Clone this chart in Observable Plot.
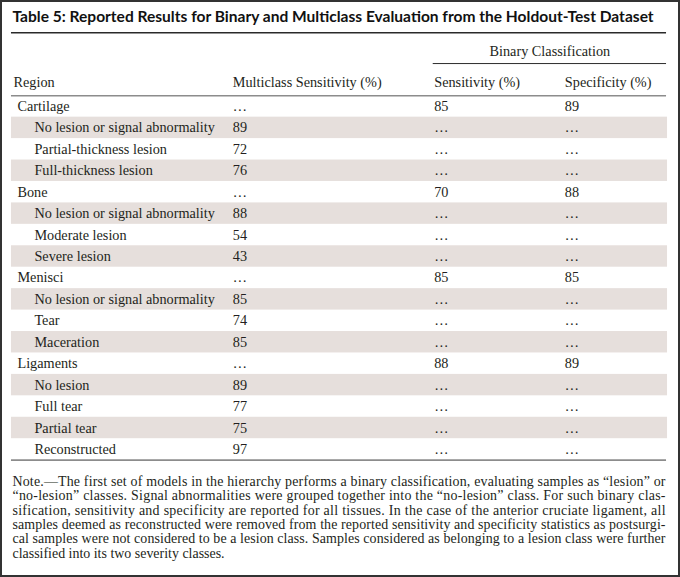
<!DOCTYPE html>
<html>
<head>
<meta charset="utf-8">
<script src="https://cdn.jsdelivr.net/npm/d3@7"></script>
<script src="https://cdn.jsdelivr.net/npm/@observablehq/plot@0.6"></script>
<style>
  html, body { margin: 0; padding: 0; background: #fff; }
  #wrap { position: relative; width: 680px; height: 577px; box-sizing: border-box; border: 2px solid #333; overflow: hidden; background: #fff; }
  #chart { position: absolute; left: -2px; top: -2px; }
</style>
</head>
<body>
<div id="wrap"><div id="chart"></div></div>
<script>
// ---------- data ----------
const title = "Table 5: Reported Results for Binary and Multiclass Evaluation from the Holdout-Test Dataset";
const groupHeader = "Binary Classification";
const columnHeaders = ["Region", "Multiclass Sensitivity (%)", "Sensitivity (%)", "Specificity (%)"];
const rowLabels = [
  "Cartilage", "No lesion or signal abnormality", "Partial-thickness lesion", "Full-thickness lesion",
  "Bone", "No lesion or signal abnormality", "Moderate lesion", "Severe lesion",
  "Menisci", "No lesion or signal abnormality", "Tear", "Maceration",
  "Ligaments", "No lesion", "Full tear", "Partial tear", "Reconstructed"
];
const rowIsRegion = [1,0,0,0, 1,0,0,0, 1,0,0,0, 1,0,0,0,0];
const multiclassSensitivity = [null,89,72,76, null,88,54,43, null,85,74,85, null,89,77,75,97];
const binarySensitivity     = [85,null,null,null, 70,null,null,null, 85,null,null,null, 88,null,null,null,null];
const binarySpecificity     = [89,null,null,null, 88,null,null,null, 85,null,null,null, 89,null,null,null,null];
const noteLines = [
  "Note.\u2014The first set of models in the hierarchy performs a binary classification, evaluating samples as \u201clesion\u201d or",
  "\u201cno-lesion\u201d classes. Signal abnormalities were grouped together into the \u201cno-lesion\u201d class. For such binary clas-",
  "sification, sensitivity and specificity are reported for all tissues. In the case of the anterior cruciate ligament, all",
  "samples deemed as reconstructed were removed from the reported sensitivity and specificity statistics as postsurgi-",
  "cal samples were not considered to be a lesion class. Samples considered as belonging to a lesion class were further",
  "classified into its two severity classes."
];

// ---------- layout (row units on y, pixels on x) ----------
const X = { left: 11, right: 668, region: 17, cls: 34, header0: 13, multi: 233, sens: 435, spec: 566, binCenter: 551, binLeft: 434 };
const Y = { title: -3.665, titleRule: -2.94, group: -2.05, groupRule: -1.5, header: -0.6, note: 19.66 };
const serif = "'Liberation Serif', 'Times New Roman', serif";
const ink = "#231f20";
const fs = 14.3;

const table = rowLabels.map((label, i) => ({
  i, label, region: rowIsRegion[i],
  multi: multiclassSensitivity[i], sens: binarySensitivity[i], spec: binarySpecificity[i]
}));
const fmt = v => v == null ? "\u2026" : String(v);
const headerData = columnHeaders.map((h, k) => ({ h, x: [X.header0, X.multi, X.sens, X.spec][k] }));

const plot = Plot.plot({
  width: 680, height: 577, margin: 0,
  x: { type: "linear", domain: [0, 680], range: [0, 680], axis: null },
  y: { type: "linear", domain: [0, 17], range: [95.5, 461], axis: null },
  style: { background: "transparent", color: ink },
  marks: [
    // row shading
    Plot.rect(table.filter(d => d.i % 2 === 1), {
      x1: () => X.left, x2: () => X.right + 1, y1: d => d.i, y2: d => d.i + 1, fill: "#e6dfdc"
    }),
    // rules
    Plot.ruleY([Y.titleRule], { x1: () => X.left, x2: () => X.right, stroke: "#2a2a2a", strokeWidth: 1.5 }),
    Plot.ruleY([Y.groupRule], { x1: () => X.binLeft, x2: () => X.right, stroke: "#2a2a2a", strokeWidth: 1 }),
    Plot.ruleY([0, 17], { x1: () => X.left, x2: () => X.right, stroke: "#8c8c8c", strokeWidth: 1.6 }),
    // title
    Plot.text([title], { x: () => 12, y: () => Y.title, text: d => d, textAnchor: "start",
      fontFamily: "Lato, sans-serif", fontWeight: 700, fontSize: 15.6, fill: "#111" }),
    // group header
    Plot.text([groupHeader], { x: () => X.binCenter, y: () => Y.group, text: d => d, textAnchor: "middle",
      fontFamily: serif, fontSize: fs, fill: ink }),
    // column headers
    Plot.text(headerData, { x: "x", y: () => Y.header, text: "h", textAnchor: "start",
      fontFamily: serif, fontSize: fs, fill: ink }),
    // row labels
    Plot.text(table, { x: d => d.region ? X.region : X.cls, y: d => d.i + 0.5, text: "label", textAnchor: "start",
      fontFamily: serif, fontSize: fs, fill: ink }),
    // values
    Plot.text(table, { x: () => X.multi, y: d => d.i + 0.5, text: d => fmt(d.multi), textAnchor: "start",
      fontFamily: serif, fontSize: fs, fill: ink }),
    Plot.text(table, { x: () => X.sens, y: d => d.i + 0.5, text: d => fmt(d.sens), textAnchor: "start",
      fontFamily: serif, fontSize: fs, fill: ink }),
    Plot.text(table, { x: () => X.spec, y: d => d.i + 0.5, text: d => fmt(d.spec), textAnchor: "start",
      fontFamily: serif, fontSize: fs, fill: ink }),
    // note
    Plot.text([noteLines.join("\n")], { x: () => 12, y: () => Y.note, text: d => d, textAnchor: "start",
      lineAnchor: "middle", lineHeight: 14.5 / 14, fontFamily: serif, fontSize: 14, fill: ink, className: "note" })
  ]
});
document.getElementById("chart").appendChild(plot);

// justify the note lines (all but the last)
const noteText = plot.querySelector(".note text");
if (noteText) {
  const spans = noteText.querySelectorAll("tspan");
  spans.forEach((s, k) => {
    if (k < spans.length - 1) {
      s.setAttribute("textLength", 655);
      s.setAttribute("lengthAdjust", "spacing");
    }
  });
}
</script>
</body>
</html>
